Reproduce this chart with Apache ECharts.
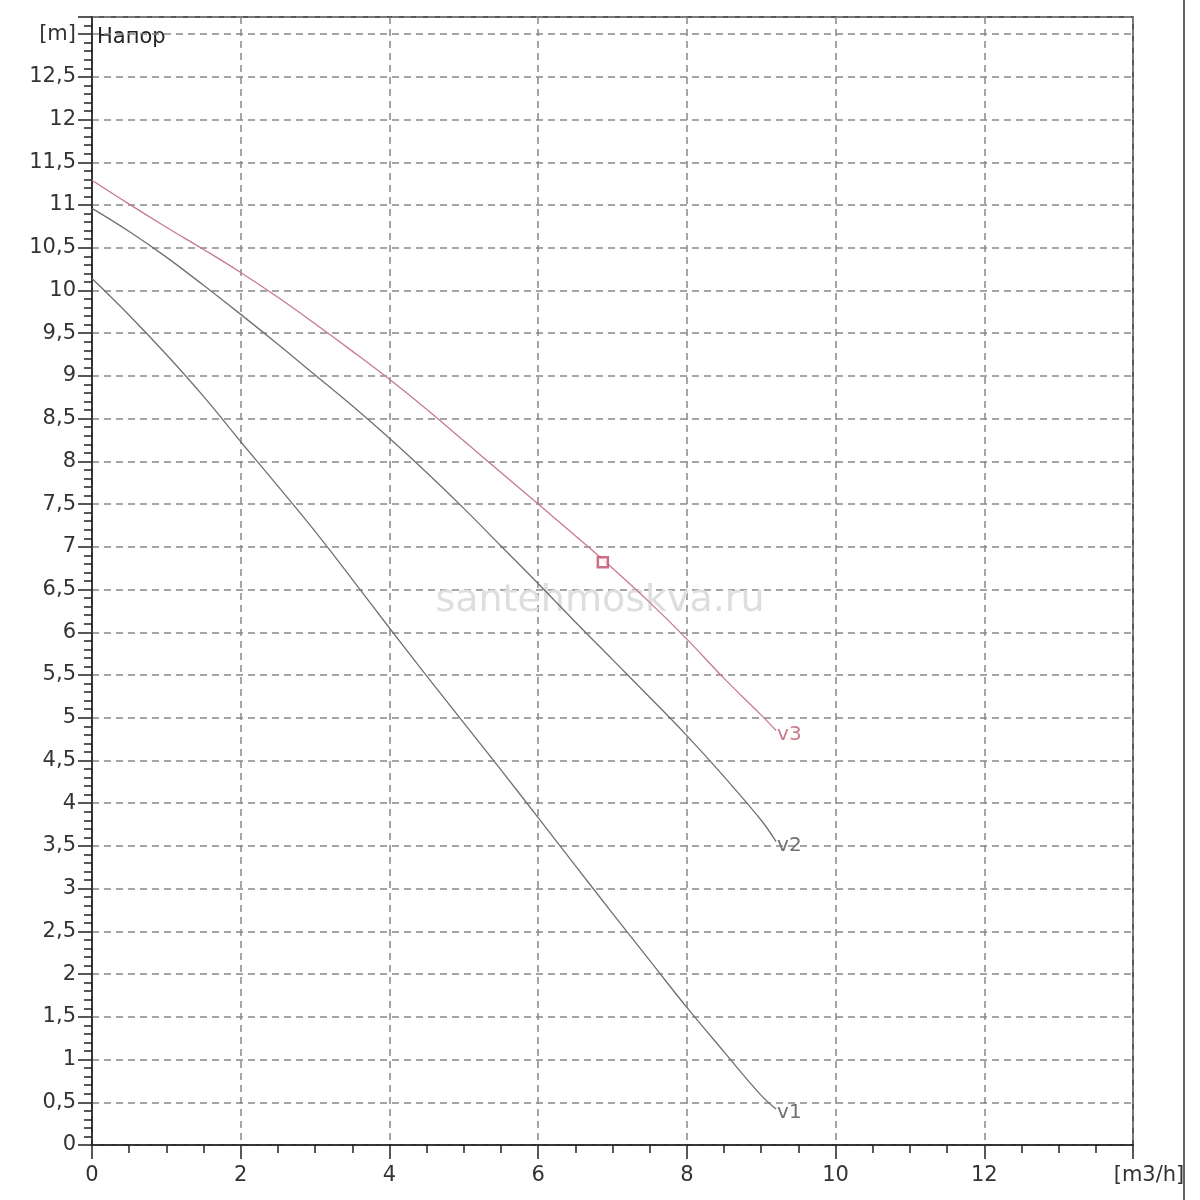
<!doctype html>
<html lang="ru">
  <head>
    <meta charset="UTF-8" />
    <title>Напор</title>
    <script src="https://cdn.jsdelivr.net/npm/echarts@6/dist/echarts.min.js"></script>
    <style>
      html, body { margin: 0; padding: 0; background: #fff; }
    </style>
  </head>
  <body>
    <div id="chart" style="width: 1200px; height: 1200px"></div>
    <script>
      // flow, m3/h
      const flow = [0, 0.5, 1, 1.5, 2, 2.5, 3, 3.5, 4, 4.5, 5, 5.5, 6, 6.5, 7, 7.5, 8, 8.5, 9, 9.2];
      // head, m, per speed
      const headV1 = [10.14, 9.71, 9.25, 8.76, 8.23, 7.71, 7.18, 6.62, 6.05, 5.49, 4.94, 4.39, 3.83, 3.27, 2.71, 2.16, 1.61, 1.09, 0.58, 0.42];
      const headV2 = [10.96, 10.69, 10.39, 10.06, 9.72, 9.37, 9.01, 8.65, 8.27, 7.87, 7.45, 7.01, 6.57, 6.12, 5.68, 5.24, 4.79, 4.31, 3.8, 3.55];
      const headV3 = [11.29, 11.01, 10.74, 10.48, 10.21, 9.92, 9.61, 9.29, 8.96, 8.61, 8.24, 7.87, 7.5, 7.13, 6.75, 6.35, 5.92, 5.46, 5.03, 4.85];
      const speedNames = ['v1', 'v2', 'v3'];
      const dutyPoint = [6.87, 6.82];

      const FONT = 'DejaVu Sans';
      const grey = '#707070';
      const red = '#c77b8a';

      const pairs = (ys) => flow.map((x, i) => [x, ys[i]]);

      const curve = (name, ys, color) => ({
        name: name,
        type: 'line',
        data: pairs(ys),
        smooth: 0.4,
        showSymbol: false,
        lineStyle: { color: color, width: 1.3 },
        endLabel: {
          show: true,
          formatter: name,
          color: color,
          fontFamily: FONT,
          fontSize: 20,
          distance: 1,
          offset: [0, 4],
        },
        z: 3,
      });

      const chart = echarts.init(document.getElementById('chart'));
      chart.setOption({
        backgroundColor: '#fff',
        animation: false,
        grid: {
          left: 92,
          right: 67,
          top: 17,
          bottom: 55,
          show: true,
          borderColor: '#222',
          borderWidth: 1.5,
          backgroundColor: 'transparent',
        },
        xAxis: {
          type: 'value',
          min: 0,
          max: 14,
          interval: 2,
          axisLine: { lineStyle: { color: '#222', width: 1.5 } },
          axisTick: { inside: false, length: 14, lineStyle: { color: '#222', width: 1.5 } },
          minorTick: { show: true, splitNumber: 4, length: 8, lineStyle: { color: '#222', width: 1.5 } },
          splitLine: { lineStyle: { color: '#888', type: [7, 5], width: 1.5 } },
          axisLabel: {
            margin: 20,
            color: '#333',
            fontFamily: FONT,
            fontSize: 21,
            showMaxLabel: true,
            formatter: (v) => (v === 14 ? '{u|[m3/h]}' : String(v)),
            rich: { u: { fontFamily: FONT, fontSize: 21, color: '#333', padding: [0, 0, 0, 32] } },
          },
        },
        yAxis: {
          type: 'value',
          min: 0,
          max: 13.2,
          interval: 0.5,
          axisLine: { lineStyle: { color: '#222', width: 1.5 } },
          axisTick: { inside: false, length: 14, lineStyle: { color: '#222', width: 1.5 } },
          minorTick: { show: true, splitNumber: 5, length: 8, lineStyle: { color: '#222', width: 1.5 } },
          splitLine: { lineStyle: { color: '#888', type: [7, 5], width: 1.5 } },
          axisLabel: {
            margin: 16,
            color: '#333',
            fontFamily: FONT,
            fontSize: 21,
            formatter: (v) => {
              if (Math.abs(v * 2 - Math.round(v * 2)) > 1e-6) return '';
              if (v === 13) return '[m]';
              return String(v).replace('.', ',');
            },
          },
        },
        graphic: [
          {
            type: 'text',
            left: 97,
            top: 27,
            style: { text: 'Напор', fill: '#222', font: '21px "DejaVu Sans"' },
          },
          {
            type: 'text',
            x: 600,
            y: 601,
            z: 1,
            style: {
              text: 'santehmoskva.ru',
              fill: '#dedee0',
              font: '38px "DejaVu Sans"',
              align: 'center',
              verticalAlign: 'middle',
            },
          },
          {
            type: 'line',
            shape: { x1: 1184, y1: 0, x2: 1184, y2: 1200 },
            style: { stroke: '#333', lineWidth: 1.5 },
          },
        ],
        series: [
          curve(speedNames[0], headV1, grey),
          curve(speedNames[1], headV2, grey),
          curve(speedNames[2], headV3, red),
          {
            type: 'scatter',
            data: [dutyPoint],
            symbol: 'rect',
            symbolSize: 10,
            itemStyle: { color: '#fff', borderColor: '#c24a6a', borderWidth: 2.5 },
            z: 4,
          },
        ],
      });
    </script>
  </body>
</html>
